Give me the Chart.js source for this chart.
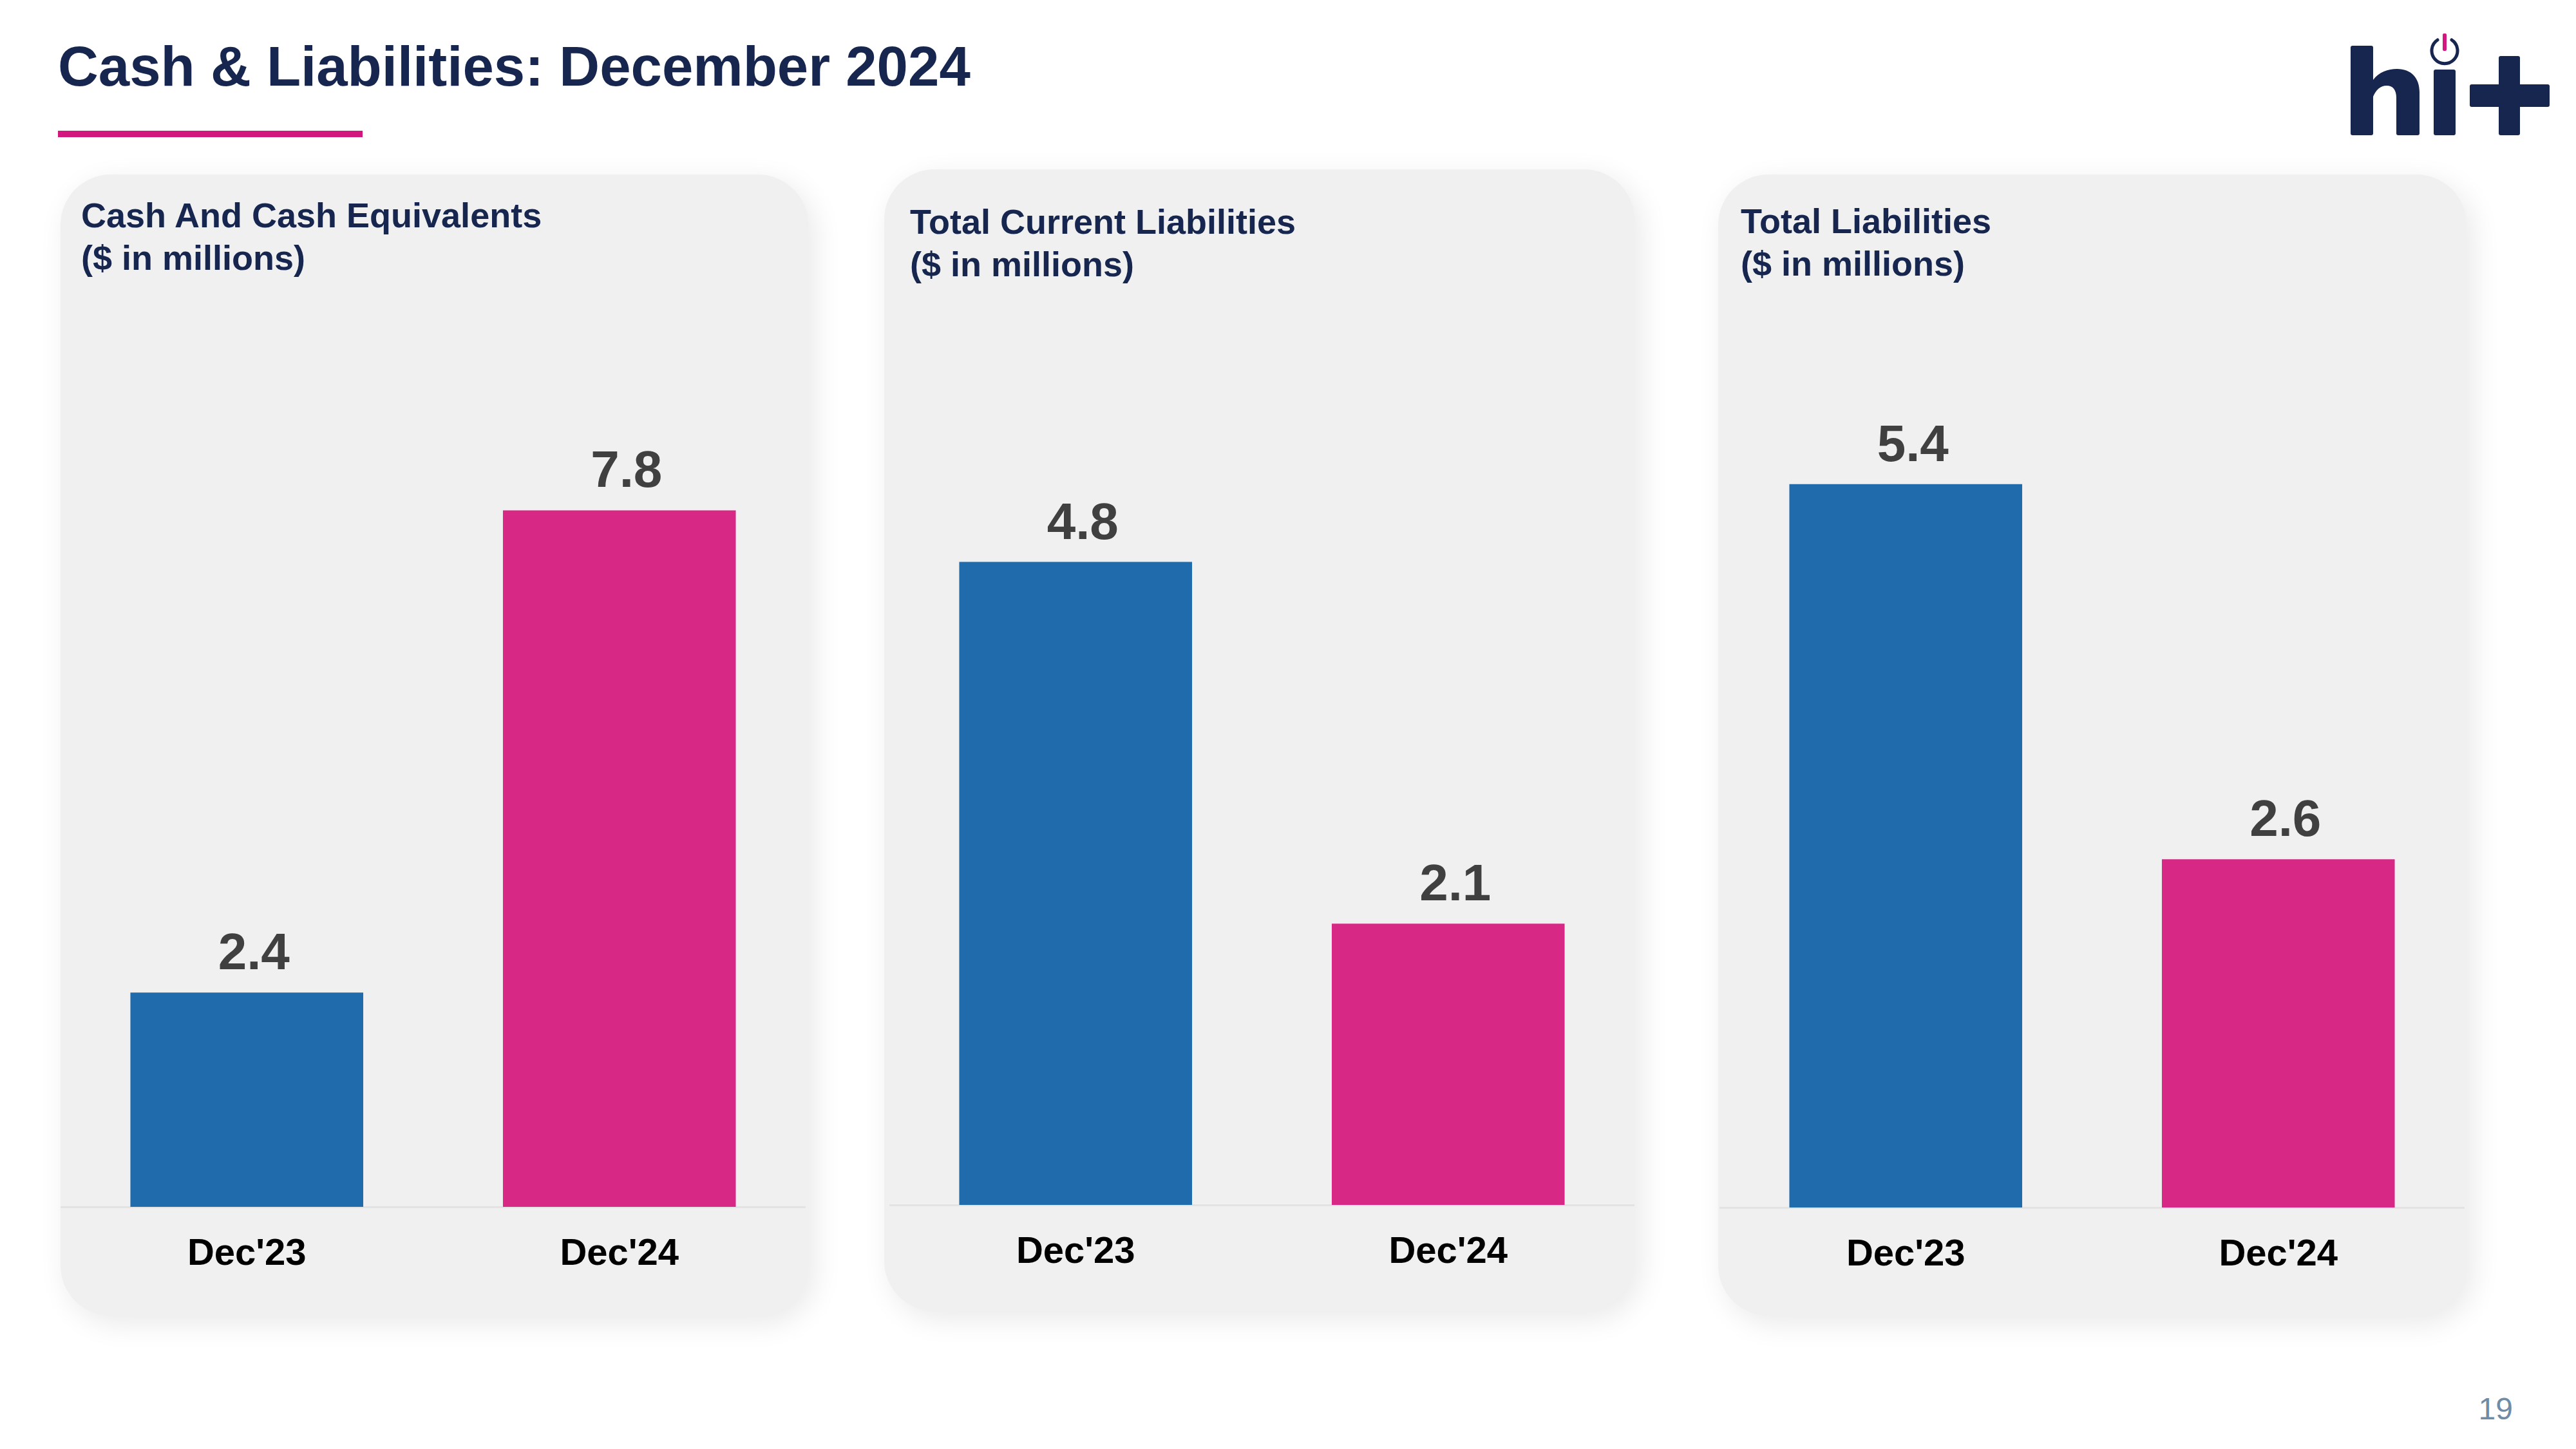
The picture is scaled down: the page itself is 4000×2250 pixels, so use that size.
<!DOCTYPE html>
<html>
<head>
<meta charset="utf-8">
<script src="https://cdn.jsdelivr.net/npm/chart.js@4/dist/chart.umd.min.js"></script>
<style>
  html, body { margin: 0; padding: 0; background: #ffffff; }
  body { width: 4000px; height: 2250px; position: relative; overflow: hidden;
         font-family: "Liberation Sans", Arial, sans-serif; }
  .title { position: absolute; left: 90px; top: 59px; font-size: 87px; line-height: 87px;
           font-weight: bold; color: #17264F; white-space: pre; }
  .underline { position: absolute; left: 90px; top: 203px; width: 473px; height: 10px; background: #D2177E; }
  .panel { position: absolute; background: #F0F0F0; border-radius: 78px;
           box-shadow: 10px 12px 45px rgba(0,0,0,0.09); }
  .ptitle { position: absolute; font-size: 54px; line-height: 66px; font-weight: bold;
            color: #17264F; white-space: pre; }
  canvas.chart { position: absolute; }
  .pagenum { position: absolute; right: 98px; top: 2164px; font-size: 48px; line-height: 48px;
             color: #6E8CA6; }
  svg.logo { position: absolute; left: 0; top: 0; }
</style>
</head>
<body>
<div class="title">Cash &amp; Liabilities: December 2024</div>
<div class="underline"></div>

<svg class="logo" width="4000" height="260" viewBox="0 0 4000 260">
  <g fill="#17264F">
    <rect x="3650" y="71" width="35" height="139" rx="3"/>
    <path d="M3685,124 C3694,112 3708,107 3722,107 C3744,107 3757,121 3757,143 L3757,207 Q3757,210 3754,210 L3724,210 Q3721,210 3721,207 L3721,152 C3721,140 3716,133 3706,133 C3696,133 3689,140 3685,150 Z"/>
    <rect x="3779" y="108" width="34" height="102" rx="3"/>
    <rect x="3880" y="87" width="33" height="123" rx="3"/>
    <rect x="3835" y="131" width="124" height="35" rx="3"/>
  </g>
  <path d="M3785,62 A20,20 0 1 0 3807,62" fill="none" stroke="#17264F" stroke-width="5" stroke-linecap="round"/>
  <rect x="3793" y="52" width="6" height="27" rx="2" fill="#D2177E"/>
</svg>

<div class="panel" style="left:94px; top:271px; width:1161px; height:1772px;"></div>
<div class="panel" style="left:1373px; top:263px; width:1165px; height:1773px;"></div>
<div class="panel" style="left:2668px; top:271px; width:1162px; height:1772px;"></div>

<div class="ptitle" id="t0" style="left:126px; top:301px;"></div>
<div class="ptitle" id="t1" style="left:1413px; top:311px;"></div>
<div class="ptitle" id="t2" style="left:2703px; top:310px;"></div>

<canvas class="chart" id="c0" width="1157" height="1540" style="left:94px; top:500px; width:1157px; height:1540px;"></canvas>
<canvas class="chart" id="c1" width="1157" height="1540" style="left:1381px; top:500px; width:1157px; height:1540px;"></canvas>
<canvas class="chart" id="c2" width="1157" height="1540" style="left:2670px; top:500px; width:1157px; height:1540px;"></canvas>

<div class="pagenum">19</div>

<script>
// ---- data ----
const categories = ["Dec'23", "Dec'24"];
const cashValues = [2.4, 7.8];
const currentLiabilitiesValues = [4.8, 2.1];
const totalLiabilitiesValues = [5.4, 2.6];
const panelTitles = [
  "Cash And Cash Equivalents\n($ in millions)",
  "Total Current Liabilities\n($ in millions)",
  "Total Liabilities\n($ in millions)"
];
const axisMaxima = [9, 6, 6];

// ---- style ----
const barColors = ['#1F6BAC', '#D62884'];
const FONT = '"Liberation Sans", Arial, sans-serif';
const baselines = [1874, 1871, 1875];
const plotHeight = 1248;
const canvasTop = 500, canvasH = 1540;

panelTitles.forEach((t, i) => { document.getElementById('t' + i).textContent = t; });

const valueLabels = {
  id: 'valueLabels',
  afterDatasetsDraw(chart) {
    const ctx = chart.ctx;
    const meta = chart.getDatasetMeta(0);
    const data = chart.data.datasets[0].data;
    ctx.save();
    ctx.font = 'bold 80px ' + FONT;
    ctx.fillStyle = '#404040';
    ctx.textAlign = 'center';
    ctx.textBaseline = 'alphabetic';
    meta.data.forEach((bar, i) => {
      ctx.fillText(data[i].toFixed(1), bar.x + 11, bar.y - 36);
    });
    ctx.restore();
  }
};

const seriesList = [cashValues, currentLiabilitiesValues, totalLiabilitiesValues];
seriesList.forEach((vals, i) => {
  const baseline = baselines[i];
  const axisH = canvasTop + canvasH - baseline;
  const padTop = (baseline - plotHeight) - canvasTop;
  new Chart(document.getElementById('c' + i), {
    type: 'bar',
    data: {
      labels: categories,
      datasets: [{
        data: vals,
        backgroundColor: barColors,
        borderWidth: 0,
        barPercentage: 0.625,
        categoryPercentage: 1.0
      }]
    },
    options: {
      responsive: false,
      animation: false,
      devicePixelRatio: 1,
      layout: { padding: { top: padTop, bottom: 0, left: 0, right: 0 } },
      plugins: { legend: { display: false }, tooltip: { enabled: false }, title: { display: false } },
      scales: {
        y: { display: false, min: 0, max: axisMaxima[i] },
        x: {
          grid: { display: false, drawTicks: false },
          border: { display: true, color: '#E3E3E3', width: 3 },
          ticks: { color: '#000000', font: { family: FONT, size: 58, weight: 'bold' }, padding: 39 },
          afterFit: (s) => { s.height = axisH; }
        }
      }
    },
    plugins: [valueLabels]
  });
});
</script>
</body>
</html>
